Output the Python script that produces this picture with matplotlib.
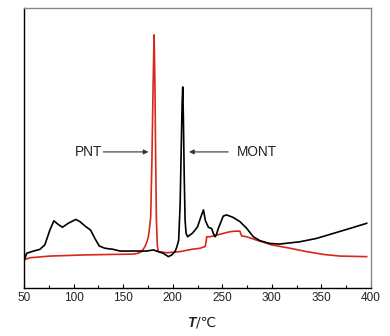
import matplotlib
matplotlib.use("Agg")
import matplotlib.pyplot as plt

plt.rcParams['font.family'] = ['Liberation Sans', 'DejaVu Sans']

# MONT (black) curve
t_mont = [50, 51, 52.7, 57.7, 66, 71, 76.1, 80.1, 84.5, 88.8, 94.6, 102.3, 106.4,
          112.4, 117.1, 121.5, 125.9, 131.6, 140, 146.8, 160.3, 173.7, 180.4, 185.5,
          190.5, 195.6, 199, 202.3, 204, 206, 207.5, 208.7, 209.5, 210.1, 210.8,
          211.6, 212.5, 213.5, 215, 220, 225, 228, 231, 233, 236, 239.3, 241, 242.7,
          244, 246, 251, 254.4, 261, 267.8, 274.6, 281.3, 288, 298, 308, 328, 345,
          362, 379, 395.6]
y_mont = [10.2, 10.6, 12.4, 13.0, 13.8, 15.4, 20.7, 24.0, 22.7, 21.7, 23.1, 24.5, 23.7,
          21.9, 20.7, 17.7, 15.0, 14.2, 13.8, 13.2, 13.2, 13.2, 13.6, 13.0,
          12.4, 11.2, 11.8, 13.0, 14.5, 17.0, 30.0, 52.0, 66.0, 71.8, 60.0,
          40.0, 24.0, 19.5, 18.3, 19.6, 21.8, 25.0, 27.9, 24.0, 21.7, 21.2, 19.5, 18.3,
          19.0, 21.3, 25.7, 26.1, 25.2, 23.7, 21.3, 18.3, 16.9, 15.9, 15.7, 16.5, 17.7,
          19.5, 21.3, 23.1]

# PNT (red) curve
t_pnt = [50, 51, 56, 76, 109.7, 140, 160, 165, 168.7, 172, 174, 175.4, 176.5, 177.8,
         179, 180.2, 181.2, 182, 182.7, 183.5, 184.5, 185.5, 194, 207.4, 219, 227.6,
         232.6, 233.5, 234.3, 237.6, 244.3, 251, 257.7, 263, 267.8, 268.5, 269.5,
         274.6, 284.6, 299.8, 318.3, 335, 351.9, 368.7, 395.6]
y_pnt = [9.8, 10.2, 10.8, 11.4, 11.8, 12.0, 12.1, 12.4, 13.0, 14.8, 16.5, 18.3, 21.0, 25.5,
         45.0, 72.0, 90.4, 75.0, 50.0, 25.0, 15.0, 13.0, 12.6, 13.0, 13.8, 14.2,
         14.8, 16.0, 18.3, 18.3, 18.9, 19.5, 20.1, 20.3, 20.3, 19.5, 18.6,
         18.3, 17.1, 15.4, 14.2, 13.0, 12.0, 11.4, 11.2]

x_ticks = [50, 100, 150, 200, 250, 300, 350, 400]

fig = plt.figure(figsize=(3.9, 3.36), dpi=100)
ax = fig.add_axes([24/390, 1-288/336, (371-24)/390, (288-8)/336])

ax.plot(t_pnt, y_pnt, color='#d8281c', lw=1.2)
ax.plot(t_mont, y_mont, color='black', lw=1.2)

ax.set_xlim(50, 400)
ax.set_ylim(0, 100)
ax.set_yticks([])
ax.set_xticks(x_ticks)
ax.set_xticks(list(range(75, 400, 50)), minor=True)
ax.tick_params(axis='x', which='major', direction='in', length=3, width=0.8,
               labelsize=8.5, labelcolor='#222222', pad=3)
ax.tick_params(axis='x', which='minor', direction='in', length=2.5, width=0.8)

for s in ['left', 'bottom']:
    ax.spines[s].set_color('black')
    ax.spines[s].set_linewidth(1.0)
for s in ['top', 'right']:
    ax.spines[s].set_color('#888888')
    ax.spines[s].set_linewidth(1.0)

ax.annotate('', xy=(175.5, 48.6), xytext=(130, 48.6),
            arrowprops=dict(arrowstyle='-|>', color='#333333', lw=0.8,
                            mutation_scale=7, shrinkA=0, shrinkB=0))
ax.text(129, 48.6, 'PNT', ha='right', va='center', fontsize=9.8, color='#222222')
ax.annotate('', xy=(216.5, 48.6), xytext=(256, 48.6),
            arrowprops=dict(arrowstyle='-|>', color='#333333', lw=0.8,
                            mutation_scale=7, shrinkA=0, shrinkB=0))
ax.text(265, 48.6, 'MONT', ha='left', va='center', fontsize=9.8, color='#222222')

xc = 0.5 * (24 + 371) / 390 - 0.005
fig.text(xc, 1 - 323/336, 'T', ha='right', va='center',
         fontsize=10, style='italic', weight='bold', color='#222222')
fig.text(xc, 1 - 323/336, '/℃', ha='left', va='center',
         fontsize=10, color='#222222', family=['DejaVu Sans'])

fig.savefig('out.png', dpi=100)
